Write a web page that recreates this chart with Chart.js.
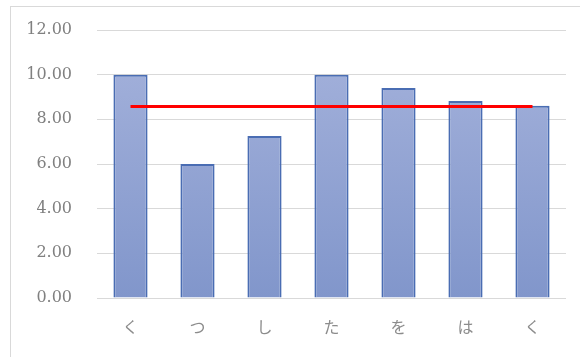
<!DOCTYPE html>
<html>
<head>
<meta charset="utf-8">
<script src="https://cdn.jsdelivr.net/npm/chart.js@4"></script>
<style>
  html, body { margin: 0; padding: 0; background: #fff; }
  #wrap { position: relative; width: 580px; height: 357px; overflow: hidden; }
  #frame { position: absolute; left: 10px; top: 6px; width: 640px; height: 400px;
           border: 1px solid #d9d9d9; box-sizing: border-box; }
  canvas { position: absolute; left: 0; top: 0; }
</style>
</head>
<body>
<div id="wrap">
  <div id="frame"></div>
  <canvas id="chart" width="580" height="357"></canvas>
</div>
<script>
// Categories and values
const labels = ['く', 'つ', 'し', 'た', 'を', 'は', 'く'];
const values = [10.0, 6.0, 7.25, 10.0, 9.4, 8.82, 8.61];
const averageLine = [8.58, 8.58, 8.58, 8.58, 8.58, 8.58, 8.58];

// Bar fill: light at top, a little darker at the bottom
function barGradient(context) {
  const area = context.chart.chartArea;
  if (!area) return '#95a6d5';
  const g = context.chart.ctx.createLinearGradient(0, area.top, 0, area.bottom);
  g.addColorStop(0, '#a6b3dc');
  g.addColorStop(1, '#8196cb');
  return g;
}

new Chart(document.getElementById('chart'), {
  data: {
    labels: labels,
    datasets: [
      {
        type: 'line',
        data: averageLine,
        borderColor: '#ff0000',
        borderWidth: 3,
        pointRadius: 0,
        fill: false,
        order: 0,
      },
      {
        type: 'bar',
        data: values,
        backgroundColor: barGradient,
        borderColor: '#4a6db3',
        borderWidth: 2,
        categoryPercentage: 1.0,
        barPercentage: 0.51,
        order: 1,
      },
    ],
  },
  options: {
    responsive: false,
    animation: false,
    layout: { padding: { left: 0, right: 14, top: 30, bottom: 10 } },
    plugins: {
      legend: { display: false },
      tooltip: { enabled: false },
    },
    scales: {
      x: {
        grid: { display: false },
        border: { display: false },
        ticks: {
          color: '#8c8c8c',
          font: { family: 'Noto Sans CJK JP', size: 16 },
          padding: 11,
        },
        afterFit: (axis) => { axis.height = 49; },
      },
      y: {
        min: 0,
        max: 12,
        grid: { color: '#d9d9d9', lineWidth: 1, drawTicks: false },
        border: { display: false },
        ticks: {
          stepSize: 2,
          color: '#808080',
          font: { family: 'DejaVu Serif', size: 16 },
          padding: 25,
          callback: (v) => v.toFixed(2),
        },
        afterFit: (axis) => {
          axis.width = 97;
          // tick padding would otherwise be added above the top label
          axis.paddingTop = 10;
          axis.paddingBottom = 10;
        },
      },
    },
  },
});
</script>
</body>
</html>
